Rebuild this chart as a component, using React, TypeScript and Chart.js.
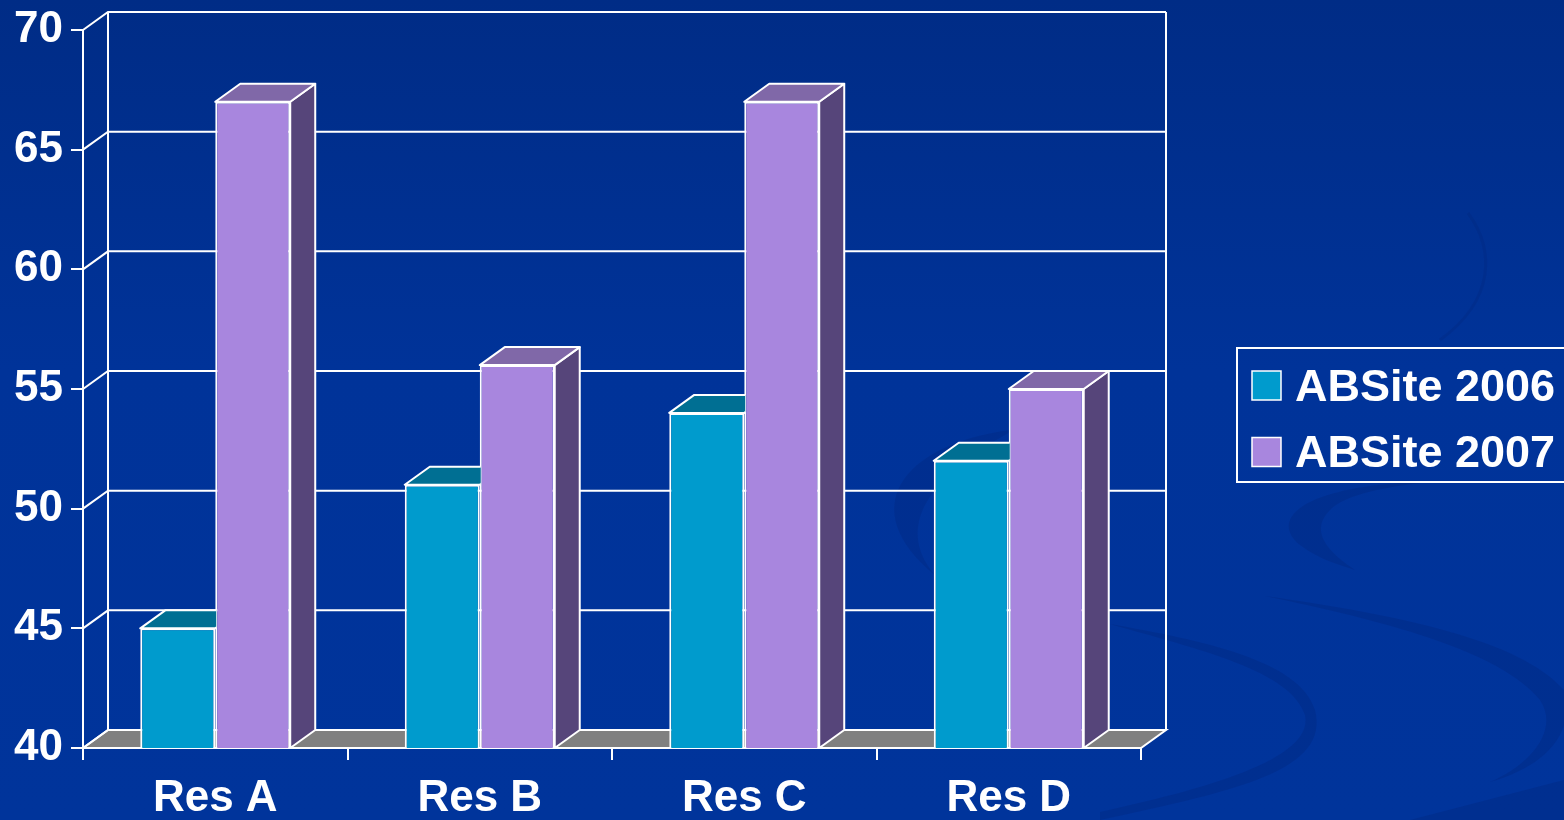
import React, { useEffect, useRef } from "react";
import { Chart, registerables } from "chart.js";

Chart.register(...registerables);

const categories = ["Res A", "Res B", "Res C", "Res D"];
const seriesNames = ["ABSite 2006", "ABSite 2007"];
const values2006 = [45, 51, 54, 52];
const values2007 = [67, 56, 67, 55];
const yTicks = [40, 45, 50, 55, 60, 65, 70];

const FONT = "'Liberation Sans', Arial, sans-serif";
const DX = 25;
const DY = 18;
const frontColors = ["#009BCD", "#A886DE"];
const topColors = ["#006F93", "#8068A8"];
const sideColors = ["#005A78", "#56457A"];

const bgPlugin = {
  id: "bg",
  beforeDraw(chart: any) {
    const { ctx, width, height } = chart;
    ctx.save();
    const g = ctx.createLinearGradient(0, 0, 0, height);
    g.addColorStop(0, "#002C86");
    g.addColorStop(0.45, "#003399");
    g.addColorStop(1, "#00349B");
    ctx.fillStyle = g;
    ctx.fillRect(0, 0, width, height);

    ctx.fillStyle = "rgba(0,36,120,0.3)";
    // upper S band near legend bottom
    ctx.beginPath();
    ctx.moveTo(1400, 483);
    ctx.bezierCurveTo(1300, 490, 1270, 520, 1300, 545);
    ctx.bezierCurveTo(1320, 560, 1340, 565, 1355, 570);
    ctx.bezierCurveTo(1325, 550, 1310, 530, 1330, 510);
    ctx.bezierCurveTo(1345, 495, 1380, 488, 1420, 483);
    ctx.closePath();
    ctx.fill();
    // middle band
    ctx.beginPath();
    ctx.moveTo(1110, 624);
    ctx.bezierCurveTo(1200, 650, 1290, 670, 1305, 715);
    ctx.bezierCurveTo(1315, 760, 1200, 790, 1100, 812);
    ctx.lineTo(1100, 820);
    ctx.bezierCurveTo(1240, 790, 1330, 770, 1315, 710);
    ctx.bezierCurveTo(1300, 660, 1200, 640, 1110, 624);
    ctx.closePath();
    ctx.fill();
    // right band
    ctx.beginPath();
    ctx.moveTo(1265, 596);
    ctx.bezierCurveTo(1380, 620, 1500, 650, 1540, 700);
    ctx.bezierCurveTo(1560, 730, 1530, 765, 1490, 782);
    ctx.bezierCurveTo(1550, 765, 1575, 730, 1564, 690);
    ctx.bezierCurveTo(1520, 640, 1400, 615, 1265, 596);
    ctx.closePath();
    ctx.fill();
    // bottom-right corner
    ctx.beginPath();
    ctx.moveTo(1410, 820);
    ctx.lineTo(1564, 780);
    ctx.lineTo(1564, 820);
    ctx.closePath();
    ctx.fill();
    // crescent behind chart
    ctx.fillStyle = "rgba(0,36,120,0.28)";
    ctx.beginPath();
    ctx.moveTo(1010, 430);
    ctx.bezierCurveTo(900, 445, 855, 510, 935, 575);
    ctx.bezierCurveTo(905, 540, 905, 490, 1010, 432);
    ctx.closePath();
    ctx.fill();
    // faint arc top right
    ctx.strokeStyle = "rgba(0,36,120,0.25)";
    ctx.lineWidth = 3;
    ctx.beginPath();
    ctx.moveTo(1468, 213);
    ctx.bezierCurveTo(1495, 250, 1495, 300, 1440, 340);
    ctx.stroke();
    ctx.restore();
  },
};

const threeDPlugin = {
  id: "threeD",
  beforeDatasetsDraw(chart: any) {
    const { ctx, chartArea: ca, scales } = chart;
    const ys = scales.y;
    const b = ys.getPixelForValue(yTicks[0]);
    const t = ys.getPixelForValue(yTicks[yTicks.length - 1]);
    ctx.save();
    ctx.strokeStyle = "#ffffff";
    ctx.lineWidth = 2;
    ctx.lineJoin = "miter";
    // floor
    ctx.fillStyle = "#808080";
    ctx.beginPath();
    ctx.moveTo(ca.left, b);
    ctx.lineTo(ca.right, b);
    ctx.lineTo(ca.right + DX, b - DY);
    ctx.lineTo(ca.left + DX, b - DY);
    ctx.closePath();
    ctx.fill();
    ctx.stroke();
    // gridlines on side + back wall
    for (const v of yTicks) {
      const py = ys.getPixelForValue(v);
      ctx.beginPath();
      ctx.moveTo(ca.left, py);
      ctx.lineTo(ca.left + DX, py - DY);
      ctx.lineTo(ca.right + DX, py - DY);
      ctx.stroke();
    }
    ctx.beginPath();
    ctx.moveTo(ca.left + DX, t - DY);
    ctx.lineTo(ca.left + DX, b - DY);
    ctx.moveTo(ca.right + DX, t - DY);
    ctx.lineTo(ca.right + DX, b - DY);
    ctx.stroke();
    ctx.restore();
  },
  afterDatasetsDraw(chart: any) {
    const ctx = chart.ctx;
    const bottom = chart.scales.y.getPixelForValue(yTicks[0]);
    const n = chart.data.datasets.length;
    for (let i = 0; i < n; i++) {
      const meta = chart.getDatasetMeta(i);
      const isLast = i === n - 1;
      meta.data.forEach((el: any) => {
        const p = el.getProps(["x", "y", "base", "width"], true);
        const y = p.y;
        const base = Math.min(p.base, bottom);
        const l = p.x - p.width / 2;
        const r = p.x + p.width / 2;
        ctx.save();
        ctx.strokeStyle = "#ffffff";
        ctx.lineWidth = 2;
        ctx.lineJoin = "round";
        if (!isLast) {
          // the neighbouring (taller) bar hides everything right of this bar's front edge
          ctx.beginPath();
          ctx.rect(0, 0, r + 1, chart.height);
          ctx.clip();
        } else {
          ctx.fillStyle = sideColors[i];
          ctx.beginPath();
          ctx.moveTo(r, y);
          ctx.lineTo(r + DX, y - DY);
          ctx.lineTo(r + DX, base - DY);
          ctx.lineTo(r, base);
          ctx.closePath();
          ctx.fill();
          ctx.stroke();
        }
        ctx.fillStyle = topColors[i];
        ctx.beginPath();
        ctx.moveTo(l, y);
        ctx.lineTo(r, y);
        ctx.lineTo(r + DX, y - DY);
        ctx.lineTo(l + DX, y - DY);
        ctx.closePath();
        ctx.fill();
        ctx.stroke();
        ctx.restore();
      });
    }
  },
};

const legendPlugin = {
  id: "customLegend",
  afterDraw(chart: any) {
    const ctx = chart.ctx;
    ctx.save();
    ctx.strokeStyle = "#ffffff";
    ctx.lineWidth = 2;
    ctx.strokeRect(1237, 348, 340, 134);
    const rows = [385.5, 452];
    chart.data.datasets.forEach((ds: any, i: number) => {
      const cy = rows[i];
      ctx.fillStyle = frontColors[i];
      ctx.fillRect(1252, cy - 14.5, 29, 29);
      ctx.lineWidth = 1.5;
      ctx.strokeRect(1252, cy - 14.5, 29, 29);
      ctx.fillStyle = "#ffffff";
      ctx.font = `bold 45px ${FONT}`;
      ctx.textAlign = "left";
      ctx.textBaseline = "middle";
      ctx.fillText(ds.label, 1295, cy + 3);
    });
    ctx.restore();
  },
};

export default function App() {
  const ref = useRef<HTMLCanvasElement | null>(null);
  useEffect(() => {
    if (!ref.current) return;
    const tickFont = { family: FONT, size: 44, weight: "bold" as const, lineHeight: 1 };
    const chart = new Chart(ref.current, {
      type: "bar",
      data: {
        labels: categories,
        datasets: [
          {
            label: seriesNames[0],
            data: values2006,
            backgroundColor: frontColors[0],
            borderColor: "#ffffff",
            borderWidth: 2,
            categoryPercentage: 0.567,
            barPercentage: 1,
          },
          {
            label: seriesNames[1],
            data: values2007,
            backgroundColor: frontColors[1],
            borderColor: "#ffffff",
            borderWidth: 2,
            categoryPercentage: 0.567,
            barPercentage: 1,
          },
        ],
      },
      options: {
        animation: false,
        responsive: false,
        devicePixelRatio: 1,
        layout: { padding: { top: 28, right: 423, left: 0, bottom: 0 } },
        plugins: { legend: { display: false }, tooltip: { enabled: false } },
        scales: {
          x: {
            grid: { drawOnChartArea: false, color: "#ffffff", lineWidth: 2, tickLength: 12, offset: true },
            border: { color: "#ffffff", width: 2 },
            ticks: {
              color: "#ffffff",
              font: { family: FONT, size: 44, weight: "bold" as const },
              padding: 12,
              maxRotation: 0,
              autoSkip: false,
            },
            afterFit: (s: any) => {
              s.height = 72;
            },
          },
          y: {
            min: 40,
            max: 70,
            grid: { drawOnChartArea: false, color: "#ffffff", lineWidth: 2, tickLength: 12 },
            border: { color: "#ffffff", width: 2 },
            ticks: { color: "#ffffff", font: tickFont, padding: 8, stepSize: 5 },
            afterBuildTicks: (s: any) => {
              s.ticks = yTicks.map((v) => ({ value: v }));
            },
            afterFit: (s: any) => {
              s.width = 83;
            },
          },
        },
      },
      plugins: [bgPlugin, threeDPlugin, legendPlugin],
    });
    return () => chart.destroy();
  }, []);
  return (
    <div style={{ position: "fixed", left: 0, top: 0, width: 1564, height: 820 }}>
      <canvas ref={ref} width={1564} height={820} style={{ display: "block" }} />
    </div>
  );
}
